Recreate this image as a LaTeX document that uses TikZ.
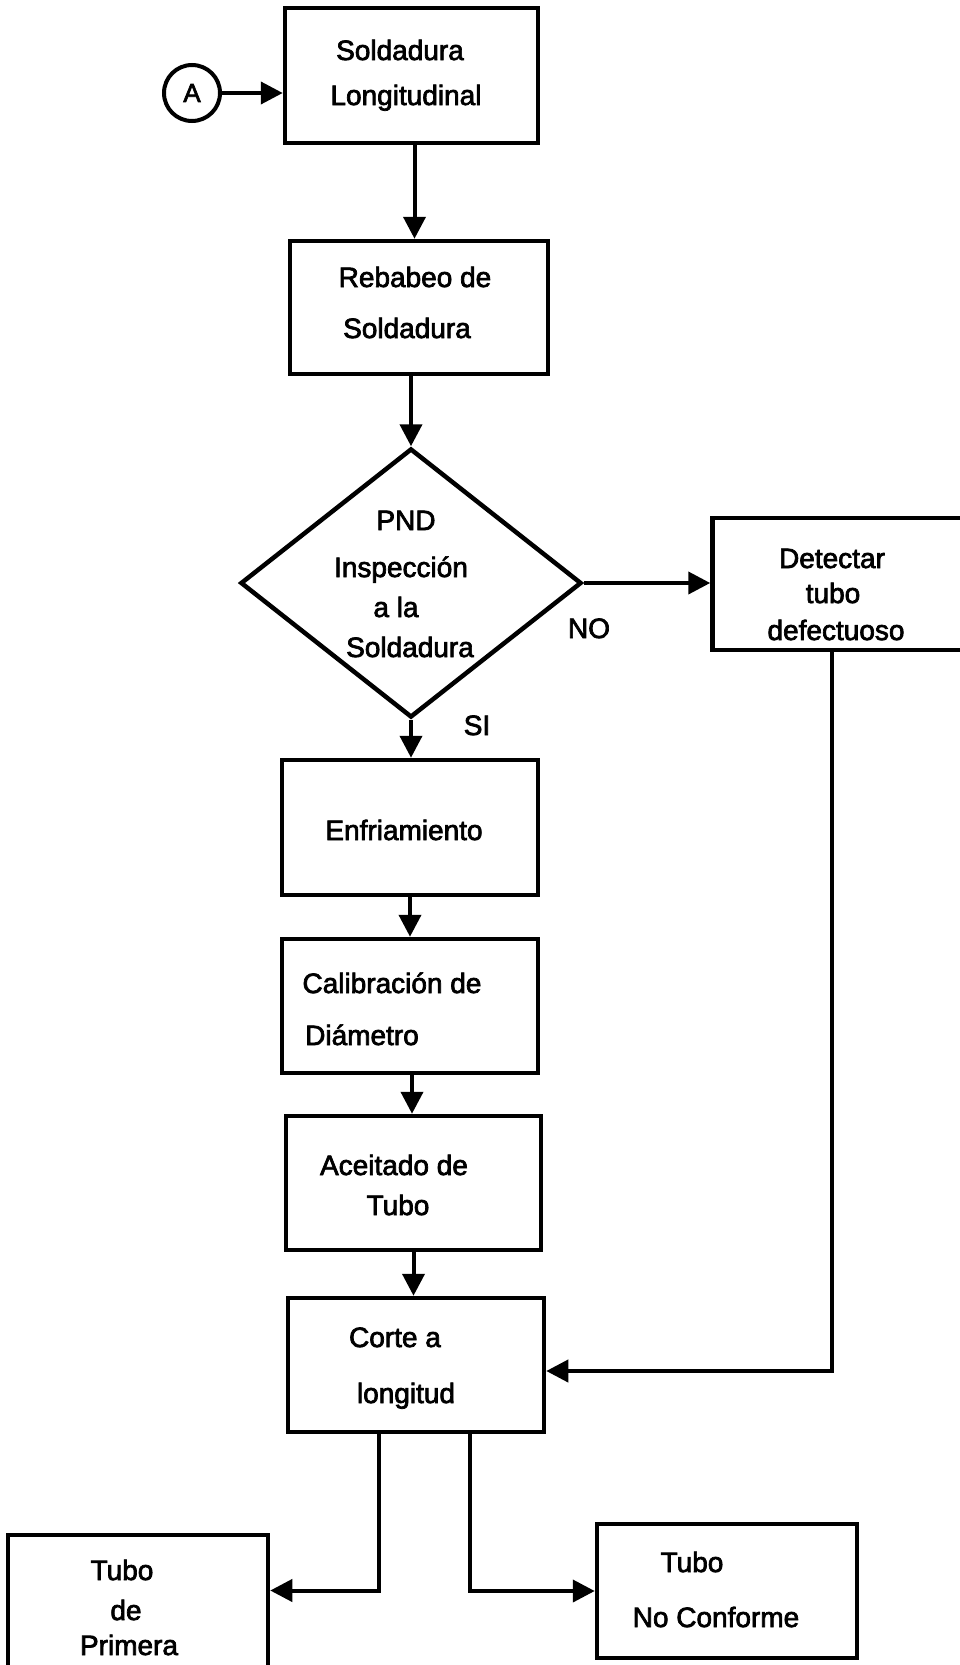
\documentclass[tikz,border=0pt]{standalone}
\usepackage{fontspec}
\setmainfont[FakeBold=2.5]{Liberation Sans}
\usetikzlibrary{shapes.geometric,arrows.meta}
\begin{document}
\begin{tikzpicture}[x=1pt,y=-1pt,
  box/.style={draw,line width=4.5pt,rectangle,inner sep=0pt},
  lbl/.style={font=\fontsize{28}{30}\selectfont,anchor=base,inner sep=0pt},
  arr/.style={line width=4pt,-{Triangle[length=22pt,width=22pt]}},
  ln/.style={line width=4pt}]
\useasboundingbox (0,0) rectangle (960,1665);
% boxes
\node[box,minimum width=253pt,minimum height=135pt] (b1) at (411.5,75.5) {};
\node[box,minimum width=258pt,minimum height=133pt] (b2) at (419,307.5) {};
\node[draw,line width=4.5pt,diamond,inner sep=0pt,minimum width=341pt,minimum height=269pt] (dia) at (411,583) {};
\node[box,minimum width=273pt,minimum height=132pt] (det) at (849,584) {};
\node[box,minimum width=256pt,minimum height=135pt] (enf) at (410,827.5) {};
\node[box,minimum width=256pt,minimum height=134pt] (cal) at (410,1006) {};
\node[box,minimum width=255pt,minimum height=134pt] (ace) at (413.5,1183) {};
\node[box,minimum width=256pt,minimum height=134pt] (cor) at (416,1365) {};
\node[box,minimum width=260pt,minimum height=165pt] (tp) at (138,1617.5) {};
\node[box,minimum width=260pt,minimum height=134pt] (tnc) at (727,1591) {};
\node[draw,circle,line width=4pt,minimum size=56pt,inner sep=0pt,font=\fontsize{26}{28}\selectfont] (A) at (192,93) {A};
% texts
\node[lbl] (t1a) at (400,60) {Soldadura};
\node[lbl] (t1b) at (406,105) {Longitudinal};
\node[lbl] (t2a) at (415,287) {Rebabeo de};
\node[lbl] (t2b) at (407,338) {Soldadura};
\node[lbl] (t3a) at (406,530) {PND};
\node[lbl] (t3b) at (401,577) {Inspección};
\node[lbl] (t3c) at (396,617) {a la};
\node[lbl] (t3d) at (410,657) {Soldadura};
\node[lbl] (t4a) at (832,568) {Detectar};
\node[lbl] (t4b) at (833,603) {tubo};
\node[lbl] (t4c) at (836,640) {defectuoso};
\node[lbl] (t5) at (404,840) {Enfriamiento};
\node[lbl] (t6a) at (392,993) {Calibración de};
\node[lbl] (t6b) at (362,1045) {Diámetro};
\node[lbl] (t7a) at (394,1175) {Aceitado de};
\node[lbl] (t7b) at (398,1215) {Tubo};
\node[lbl] (t8a) at (395,1347) {Corte a};
\node[lbl] (t8b) at (406,1403) {longitud};
\node[lbl] (t9a) at (122,1580) {Tubo};
\node[lbl] (t9b) at (126,1620) {de};
\node[lbl] (t9c) at (129,1655) {Primera};
\node[lbl] (t10a) at (692,1572) {Tubo};
\node[lbl] (t10b) at (716,1627) {No Conforme};
\node[lbl] (no) at (589,638) {NO};
\node[lbl] (si) at (477,735) {SI};
% connectors
\draw[arr] (A.east) -- (A.east -| b1.west);
\draw[arr] ([xshift=3pt]b1.south) -- ([xshift=3pt]b1.south |- b2.north);
\draw[arr] (b2.south -| dia.north) -- (dia.north);
\draw[arr] (dia.east) -- (dia.east -| det.west);
\draw[arr] (dia.south) -- (dia.south |- enf.north);
\draw[arr] (enf.south) -- (enf.south |- cal.north);
\draw[arr] ([xshift=2pt]cal.south) -- ([xshift=2pt]cal.south |- ace.north);
\draw[arr] (ace.south) -- (ace.south |- cor.north);
\coordinate (dx) at ([xshift=-17pt]det.south);
\coordinate (cx) at ([yshift=-6pt]cor.east);
\draw[arr] (dx) |- (cx);
\coordinate (cl) at ([xshift=-37pt]cor.south);
\coordinate (tpe) at ([yshift=27pt]tp.east);
\draw[arr] (cl) |- (tpe);
\coordinate (cr) at ([xshift=54pt]cor.south);
\draw[arr] (cr) |- (tnc.west);
\end{tikzpicture}
\end{document}
